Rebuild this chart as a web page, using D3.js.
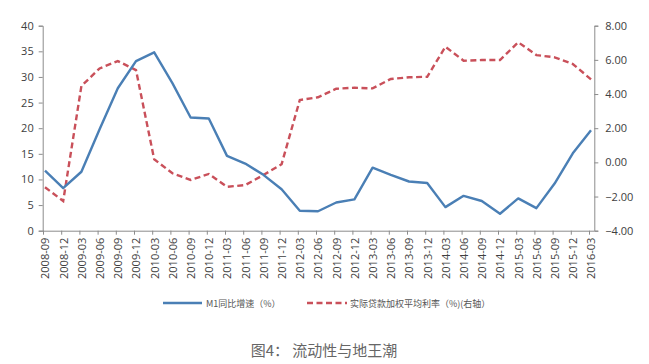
<!DOCTYPE html>
<html>
<head>
<meta charset="utf-8">
<script src="https://cdn.jsdelivr.net/npm/d3@7"></script>
<style>
  body { margin: 0; background: #fff; }
  svg { display: block; }
  .tick text { font-family: "Open Sans", "Liberation Sans", sans-serif; fill: #404040; }
</style>
</head>
<body>
<svg id="chart"></svg>
<script>
const months = ["2008-09","2008-12","2009-03","2009-06","2009-09","2009-12","2010-03","2010-06","2010-09","2010-12",
  "2011-03","2011-06","2011-09","2011-12","2012-03","2012-06","2012-09","2012-12","2013-03","2013-06",
  "2013-09","2013-12","2014-03","2014-06","2014-09","2014-12","2015-03","2015-06","2015-09","2015-12","2016-03"];

// M1 同比增速 (left axis)
const m1 = [11.7, 8.3, 11.5, 19.8, 27.8, 33.1, 34.8, 28.8, 22.1, 21.9,
  14.6, 13.1, 10.9, 8.1, 3.9, 3.8, 5.5, 6.1, 12.3, 10.9,
  9.6, 9.3, 4.6, 6.8, 5.8, 3.3, 6.3, 4.4, 9.2, 15.1, 19.6];

// 实际贷款加权平均利率 (right axis)
const realRate = [-1.46, -2.26, 4.47, 5.5, 5.93, 5.4, 0.18, -0.64, -1.03, -0.68,
  -1.43, -1.33, -0.74, -0.11, 3.65, 3.81, 4.31, 4.37, 4.33, 4.88,
  4.98, 5.01, 6.77, 5.95, 5.99, 5.99, 7.03, 6.28, 6.15, 5.76, 4.86];

const leftTicks = [0, 5, 10, 15, 20, 25, 30, 35, 40];
const rightTicks = [-4, -2, 0, 2, 4, 6, 8];

const width = 649, height = 364;
const svg = d3.select("#chart").attr("width", width).attr("height", height);

const x = d3.scalePoint().domain(months).range([45, 591]);
const yL = d3.scaleLinear().domain([0, 40]).range([230.7, 25.7]);
const yR = d3.scaleLinear().domain([-4, 8]).range([230.7, 25.7]);

const axisColor = "#8c8c8c";

// left axis
const gL = svg.append("g").attr("transform", "translate(42.7,0)")
  .call(d3.axisLeft(yL).tickValues(leftTicks).tickSize(4).tickPadding(5));
gL.selectAll("text").style("font-size", "11px");

// right axis
const gR = svg.append("g").attr("transform", "translate(594.3,0)")
  .call(d3.axisRight(yR).tickValues(rightTicks).tickSize(4).tickPadding(7).tickFormat(d3.format(".2f")));
gR.selectAll("text").style("font-size", "11px");

// x axis
const gX = svg.append("g").attr("transform", "translate(0,230.7)")
  .call(d3.axisBottom(x).tickSize(4).tickSizeOuter(0));
gX.select(".domain").attr("d", "M42.7,0.5H594.3");
gX.selectAll(".tick line").attr("transform", "translate(-2,0)");
gX.selectAll("text")
  .style("font-size", "11px")
  .attr("transform", "rotate(-90)")
  .attr("text-anchor", "end")
  .attr("x", -7)
  .attr("y", 0)
  .attr("dy", "0.35em");

svg.selectAll(".domain, .tick line").attr("stroke", axisColor);

// lines
const lineL = d3.line().x((d, i) => x(months[i])).y(d => yL(d));
const lineR = d3.line().x((d, i) => x(months[i])).y(d => yR(d));

svg.append("path").datum(realRate)
  .attr("d", lineR)
  .attr("fill", "none")
  .attr("stroke", "#c9505a")
  .attr("stroke-width", 2.4)
  .attr("stroke-dasharray", "6,3.5");

svg.append("path").datum(m1)
  .attr("d", lineL)
  .attr("fill", "none")
  .attr("stroke", "#4a7fb5")
  .attr("stroke-width", 2.4)
  .attr("stroke-linejoin", "round");

// legend
const legend = svg.append("g").style("font-family", "'Noto Sans CJK SC', sans-serif")
  .style("font-size", "9px").style("fill", "#555");
legend.append("line").attr("x1", 163).attr("x2", 202).attr("y1", 303).attr("y2", 303)
  .attr("stroke", "#4a7fb5").attr("stroke-width", 2.4);
legend.append("text").attr("x", 206).attr("y", 306.5).text("M1同比增速（%）");
legend.append("line").attr("x1", 307).attr("x2", 347).attr("y1", 303).attr("y2", 303)
  .attr("stroke", "#c9505a").attr("stroke-width", 2.4).attr("stroke-dasharray", "6,3.5");
legend.append("text").attr("x", 350).attr("y", 306.5).text("实际贷款加权平均利率（%)(右轴）");

// caption
svg.append("text")
  .attr("x", 324).attr("y", 356)
  .attr("text-anchor", "middle")
  .style("font-family", "'Noto Sans CJK SC', sans-serif")
  .style("font-size", "15px")
  .style("fill", "#666")
  .text("图4： 流动性与地王潮");
</script>
</body>
</html>
